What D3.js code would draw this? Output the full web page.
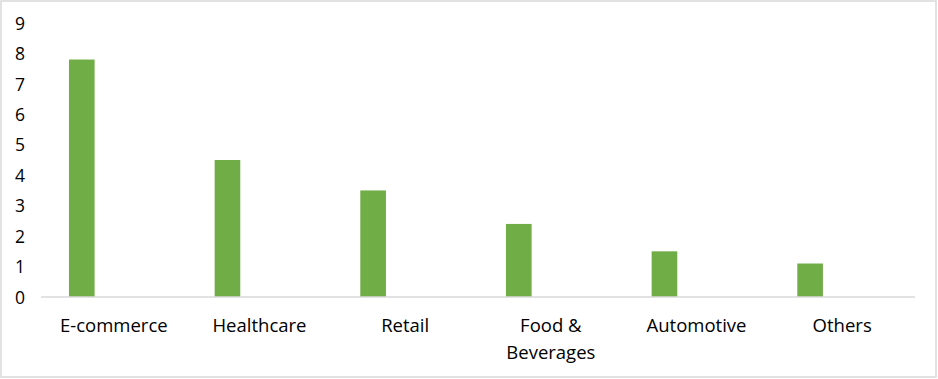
<!DOCTYPE html>
<html>
<head>
<meta charset="utf-8">
<script src="https://cdn.jsdelivr.net/npm/d3@7"></script>
<style>
  html, body { margin: 0; padding: 0; background: #fff; }
  svg { display: block; }
  text { font-family: 'Open Sans', 'Noto Sans', sans-serif; fill: #000; }
</style>
</head>
<body>
<svg id="chart"></svg>
<script>
// data
const categories = ['E-commerce', 'Healthcare', 'Retail', 'Food & Beverages', 'Automotive', 'Others'];
const values = [7.8, 4.5, 3.5, 2.4, 1.5, 1.1];
const yTicks = [0, 1, 2, 3, 4, 5, 6, 7, 8, 9];

// settings object
const config = {
  width: 938,
  height: 379,
  plot: { left: 41, right: 915, top: 23, bottom: 297 },
  bar: { offset: 0.192, width: 0.176, color: '#70AD47' },
  font: { x: 18.5, y: 17.5 },
};

const svg = d3.select('#chart')
  .attr('width', config.width)
  .attr('height', config.height);

// outer border
svg.append('rect')
  .attr('x', 1)
  .attr('y', 1)
  .attr('width', config.width - 3)
  .attr('height', config.height - 3)
  .attr('fill', '#fff')
  .attr('stroke', '#D9D9D9')
  .attr('stroke-width', 1.5);

const scaleX = d3.scaleBand()
  .domain(categories)
  .range([config.plot.left, config.plot.right])
  .padding(0);

const scaleY = d3.scaleLinear()
  .domain([0, 9])
  .range([config.plot.bottom, config.plot.top]);

// bars sit in the left part of each band
svg.selectAll('.bar')
  .data(categories)
  .enter().append('rect')
  .attr('class', 'bar')
  .attr('x', d => scaleX(d) + scaleX.bandwidth() * config.bar.offset)
  .attr('width', scaleX.bandwidth() * config.bar.width)
  .attr('y', (d, i) => scaleY(values[i]))
  .attr('height', (d, i) => scaleY(0) - scaleY(values[i]))
  .attr('fill', config.bar.color);

// y-axis labels, no axis line
const yAxis = d3.axisLeft(scaleY)
  .tickValues(yTicks)
  .tickSize(0)
  .tickPadding(0);

const yG = svg.append('g')
  .attr('transform', 'translate(25, 0)')
  .call(yAxis);
yG.select('.domain').remove();
yG.selectAll('text')
  .attr('font-size', config.font.y)
  .attr('font-family', null)
  .attr('dy', '0.35em');

// x-axis line
svg.append('line')
  .attr('x1', config.plot.left)
  .attr('x2', config.plot.right)
  .attr('y1', scaleY(0))
  .attr('y2', scaleY(0))
  .attr('stroke', '#D9D9D9')
  .attr('stroke-width', 1.5);

// category labels, wrapped where the reference wraps
const xLabels = svg.selectAll('.xlabel')
  .data(categories)
  .enter().append('text')
  .attr('class', 'xlabel')
  .attr('text-anchor', 'middle')
  .attr('font-size', config.font.x)
  .attr('y', 332);

xLabels.each(function(d) {
  const lines = d === 'Food & Beverages' ? ['Food &', 'Beverages'] : [d];
  const cx = scaleX(d) + scaleX.bandwidth() / 2;
  lines.forEach((line, i) => {
    d3.select(this).append('tspan')
      .attr('x', cx)
      .attr('dy', i === 0 ? 0 : 26.6)
      .text(line);
  });
});
</script>
</body>
</html>
